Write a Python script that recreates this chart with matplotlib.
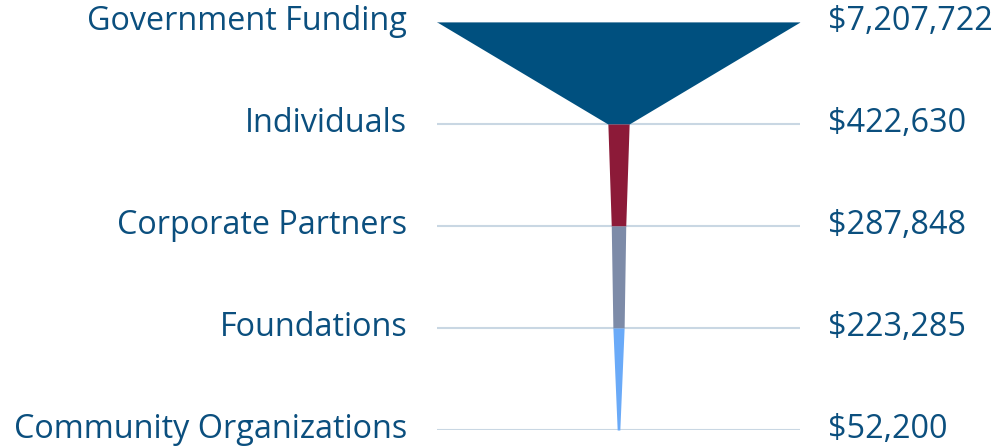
import matplotlib.pyplot as plt

categories = ['Government Funding', 'Individuals', 'Corporate Partners',
              'Foundations', 'Community Organizations']
values = [7207722, 422630, 287848, 223285, 52200]
colors = ['#00507f', '#8c1a38', '#7d8ba8', '#6aaaf8']

text_color = '#0b4f7e'
plt.rcParams['font.family'] = ['Open Sans', 'DejaVu Sans']
plt.rcParams['font.weight'] = 'medium'

fig = plt.figure(figsize=(10.07, 4.47), dpi=100)
ax = fig.add_axes([437 / 1007, 17 / 447, 363 / 1007, 408 / 447])

# one trapezoid between each pair of levels
for i in range(len(values) - 1):
    top, bottom = values[i] / 2, values[i + 1] / 2
    ax.fill_betweenx([i, i + 1], [-top, -bottom], [top, bottom],
                     color=colors[i], linewidth=0, zorder=3)

m = max(values) / 2
ax.set_xlim(-m, m)
ax.set_ylim(len(values) - 1, 0)
ax.set_xticks([])
ax.set_yticks(range(len(values)))
ax.set_yticklabels(categories)
ax.grid(axis='y', color='#c9d7e3', linewidth=1.5, zorder=0)
ax.tick_params(axis='y', length=0, pad=21.5, labelsize=23.3, labelcolor=text_color)
for s in ax.spines.values():
    s.set_visible(False)

ax2 = ax.twinx()
ax2.set_ylim(ax.get_ylim())
ax2.set_yticks(range(len(values)))
ax2.set_yticklabels(['${:,}'.format(v) for v in values])
ax2.tick_params(axis='y', length=0, pad=20, labelsize=23.3, labelcolor=text_color)
for s in ax2.spines.values():
    s.set_visible(False)

for lab in ax.get_yticklabels() + ax2.get_yticklabels():
    lab.set_va('center')

fig.savefig('out.png', dpi=100)
